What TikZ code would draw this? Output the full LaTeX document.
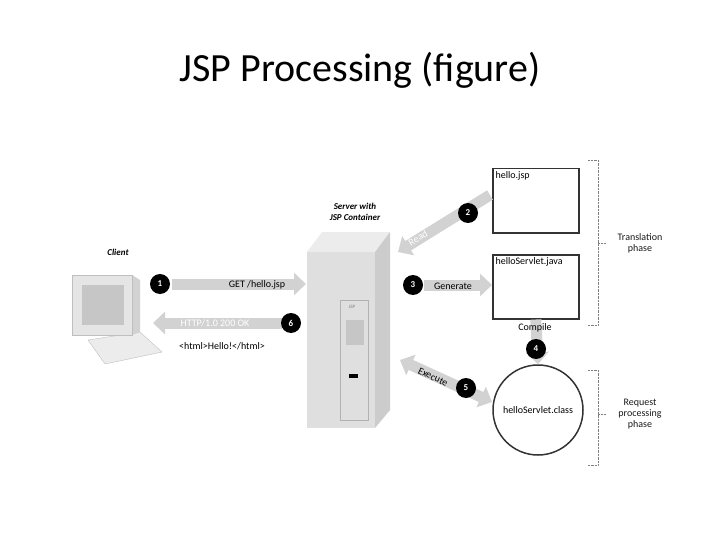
\documentclass[tikz,border=0pt]{standalone}
\usepackage{fontspec}
\setmainfont{Carlito}
\usetikzlibrary{arrows.meta}
\tikzset{
  stepmark/.style={circle,fill=black,text=white,font=\bfseries\small,inner sep=1.5pt,minimum size=20pt},
  flow/.style={draw=gray!35,line width=11pt,-{Triangle[length=12pt,width=22pt]}},
  flowboth/.style={flow,{Triangle[length=12pt,width=22pt]}-{Triangle[length=12pt,width=22pt]}},
  file/.style={draw=black!80,line width=1.5pt,fill=white,minimum width=86pt,minimum height=64pt,anchor=north west},
  note/.style={font=\fontsize{10}{11}\selectfont},
  phase/.style={draw=gray,densely dotted},
}
\begin{document}
\begin{tikzpicture}[x=1pt,y=-1pt]
\useasboundingbox (0,0) rectangle (720,540);
\node (title) at (360,70) {\fontsize{40}{46}\selectfont JSP Processing (figure)};

% client computer
\node[note,font=\small\bfseries\itshape] (client) at (118,252) {Client};
\fill[gray!15] (88,340) -- (140,332) -- (162,352) -- (105,364) -- cycle;
\draw[gray!50] (88,340) -- (140,332) -- (162,352) -- (105,364) -- cycle;
\fill[gray!20] (72,275) rectangle (132,335);
\fill[gray!35] (132,275) -- (140,280) -- (140,332) -- (132,335) -- cycle;
\fill[gray!45] (82,285) rectangle (124,325);
\draw[gray!50] (72,275) rectangle (132,335);

% server
\node[note,font=\small\bfseries\itshape,align=center] (srvlabel) at (355,212) {Server with\\JSP Container};
\fill[gray!15] (307,252) -- (322,232) -- (390,232) -- (375,252) -- cycle;
\fill[gray!25] (307,252) rectangle (375,428);
\fill[gray!40] (375,252) -- (390,232) -- (390,410) -- (375,428) -- cycle;
\draw[gray!60] (340,300) rectangle (368,420);
\fill[gray!45] (346,320) rectangle (364,345);
\fill[black] (349,374) rectangle (358,378);
\node[font=\tiny,gray] (jsp) at (352,307) {JSP};

% files
\node[file] (jspfile) at (492,168) {};
\node[note,anchor=north west] at (jspfile.north west) {hello.jsp};
\node[file] (javafile) at (492,254) {};
\node[note,anchor=north west] at (javafile.north west) {helloServlet.java};
\node[circle,draw=black!80,line width=1.5pt,minimum size=90pt,inner sep=0pt,note] (cls) at (538,410) {helloServlet.class};

% arrows
\coordinate (a1s) at (172,284); \coordinate (a1e) at (306,284);
\draw[flow] (a1s) -- (a1e);
\node[note] (get) at (257,285) {GET /hello.jsp};
\coordinate (a6s) at (282,323); \coordinate (a6e) at (153,323);
\draw[flow] (a6s) -- (a6e);
\node[note,text=white] (ok) at (215,323) {HTTP/1.0 200 OK};
\node[note] (html) at (222,346) {<html>Hello!</html>};
\coordinate (a2s) at (490,195); \coordinate (a2e) at (398,252);
\draw[flow] (a2s) -- (a2e);
\node[note,text=white,rotate=30] (read) at (418,238) {Read};
\coordinate (a3s) at (424,285);
\draw[flow] (a3s) -- (javafile.west |- a3s);
\node[note] (gen) at (453,286) {Generate};
\coordinate (a5s) at (400,360); \coordinate (a5e) at (492,402);
\draw[flowboth] (a5s) -- (a5e);
\node[note,rotate=-25] (exe) at (433,377) {Execute};
\draw[flow] (javafile.south) -- (cls.north);
\node[note] (comp) at (535,328) {Compile};

\node[stepmark] (s1) at (160,284) {1};
\node[stepmark] (s2) at (468,213) {2};
\node[stepmark] (s3) at (413,285) {3};
\node[stepmark] (s4) at (536,349) {4};
\node[stepmark] (s5) at (466,388) {5};
\node[stepmark] (s6) at (291,323) {6};

% phases
\draw[phase] (588,160) -- (598,160) -- (598,325) -- (588,325);
\draw[phase] (598,243) -- (606,243);
\node[note,align=center,gray!20!black] (trans) at (640,243) {Translation\\phase};
\draw[phase] (588,370) -- (598,370) -- (598,465) -- (588,465);
\draw[phase] (598,414) -- (606,414);
\node[note,align=center,gray!20!black] (req) at (640,414) {Request\\processing\\phase};
\end{tikzpicture}
\end{document}
